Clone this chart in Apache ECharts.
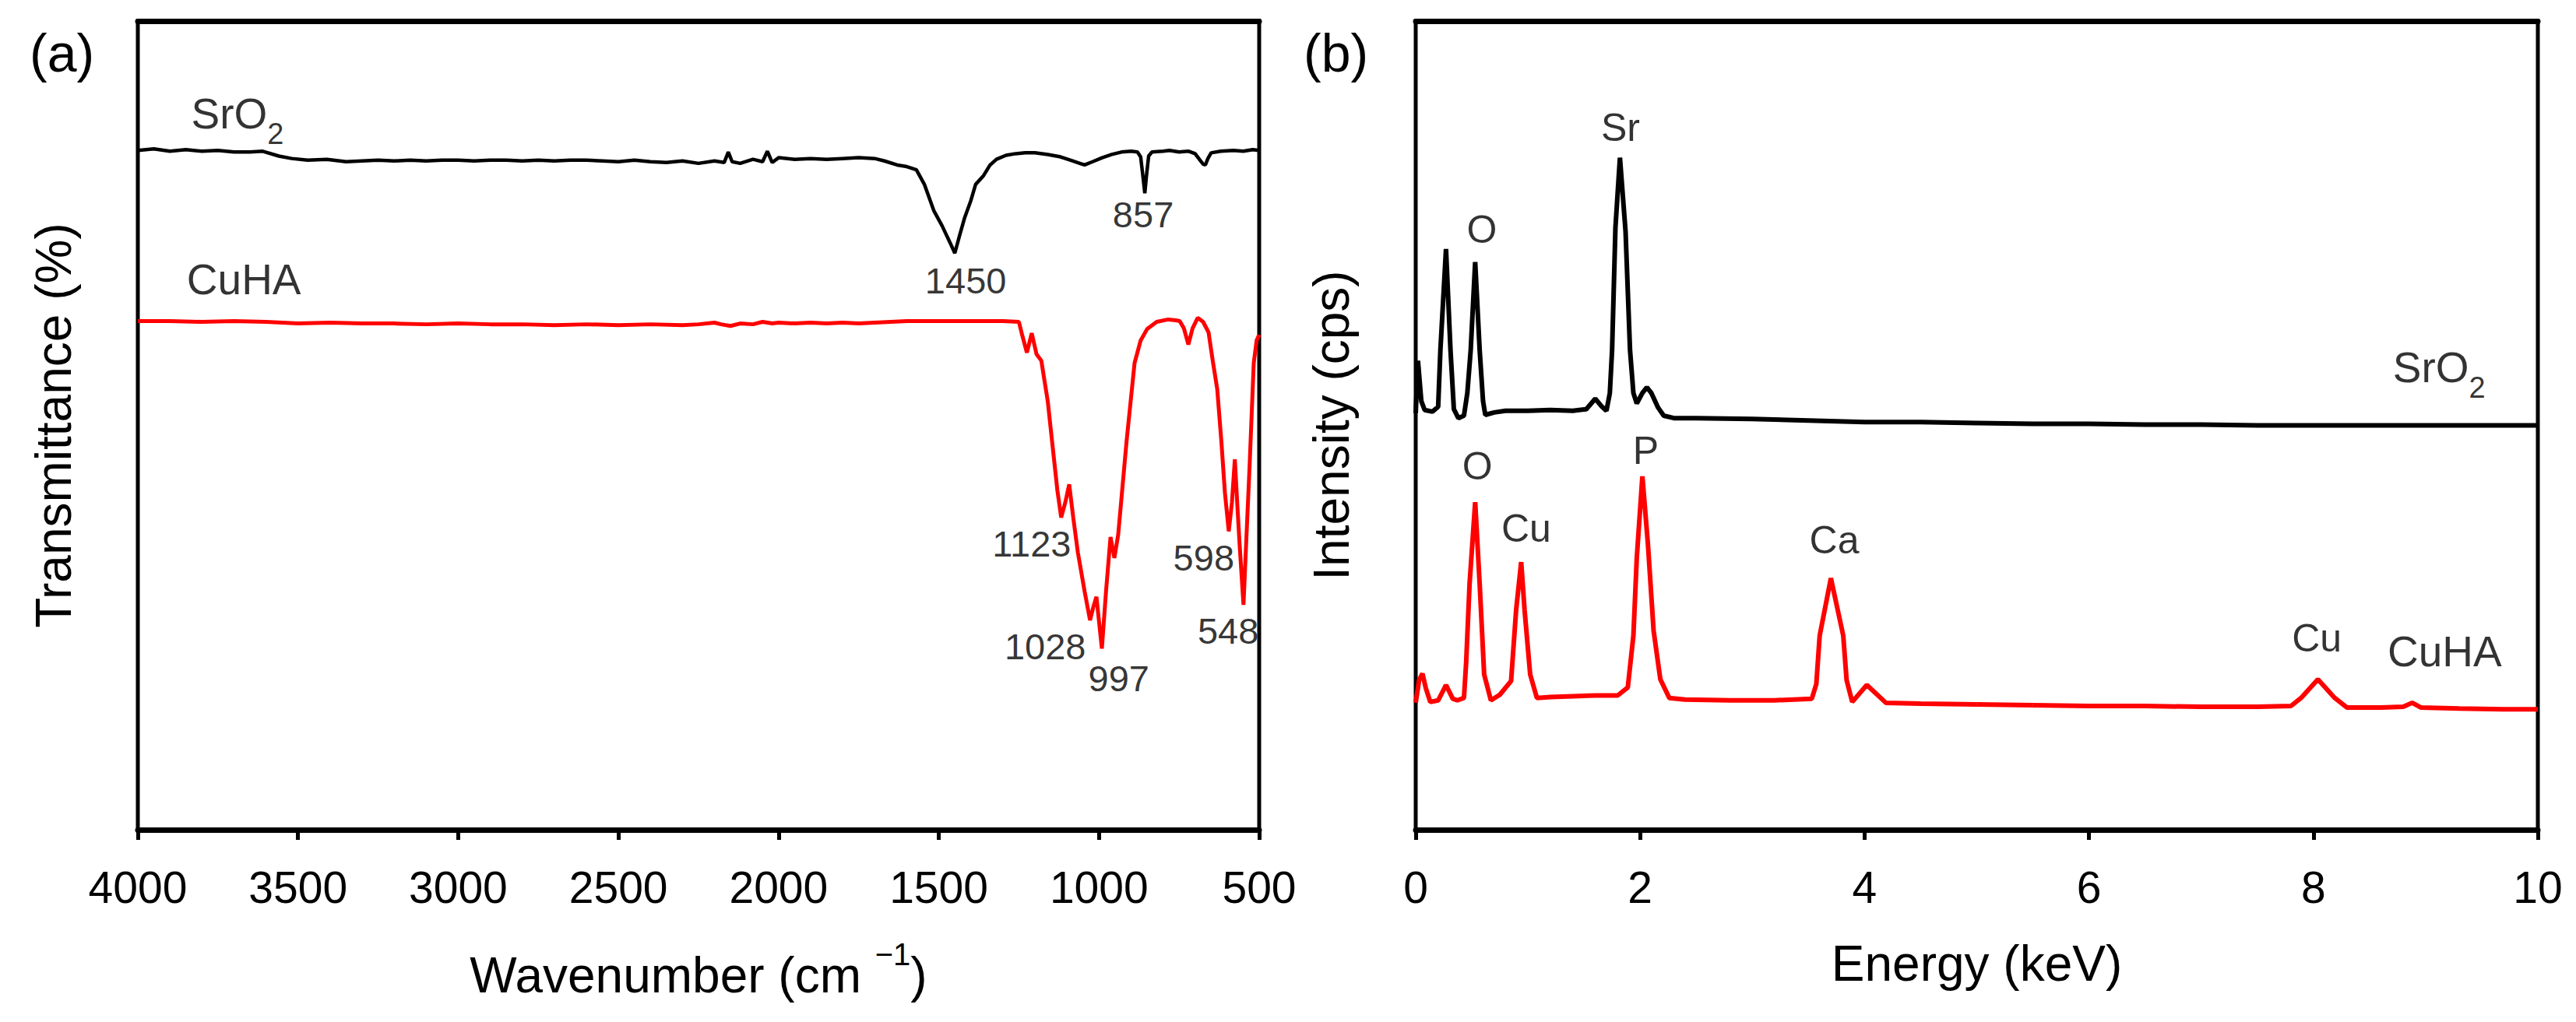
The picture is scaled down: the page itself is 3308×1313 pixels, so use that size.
<!DOCTYPE html>
<html lang="en">
<head>
<meta charset="utf-8">
<title>FTIR and EDS spectra</title>
<script src="https://cdn.jsdelivr.net/npm/echarts@6/dist/echarts.min.js"></script>
<style>
  html, body { margin: 0; padding: 0; background: #fff; }
  #main { width: 3308px; height: 1313px; }
</style>
</head>
<body>
<div id="main"></div>
<script>
// (a) FTIR: [wavenumber cm-1, transmittance (offset, a.u.)]
var irSrO2 = [
  [4000, 84.0], [3950, 84.2], [3900, 83.9], [3850, 84.1], [3800, 83.9], [3750, 84.0],
  [3700, 83.8], [3650, 83.8], [3610, 83.9], [3560, 83.3], [3520, 83.0], [3470, 82.8],
  [3410, 82.9], [3350, 82.6], [3300, 82.7], [3250, 82.8], [3200, 82.7], [3150, 82.8],
  [3100, 82.7], [3050, 82.8], [3000, 82.8], [2950, 82.7], [2900, 82.8], [2850, 82.8],
  [2800, 82.7], [2750, 82.8], [2700, 82.7], [2650, 82.8], [2600, 82.8], [2550, 82.7],
  [2500, 82.6], [2450, 82.8], [2400, 82.6], [2350, 82.5], [2300, 82.7], [2250, 82.4],
  [2200, 82.7], [2170, 82.5], [2157, 83.8], [2145, 82.6], [2120, 82.4], [2080, 82.9],
  [2050, 82.6], [2035, 83.9], [2020, 82.5], [2000, 83.1], [1950, 82.9], [1900, 83.0],
  [1850, 82.9], [1800, 83.0], [1750, 83.1], [1700, 83.0], [1670, 82.7], [1630, 82.2],
  [1600, 82.0], [1570, 81.6], [1545, 79.8], [1515, 76.5], [1490, 74.7], [1465, 72.6],
  [1450, 71.3], [1435, 73.5], [1420, 75.6], [1400, 77.8], [1385, 79.8], [1360, 80.9],
  [1340, 82.2], [1320, 82.9], [1290, 83.4], [1260, 83.6], [1230, 83.7], [1200, 83.7],
  [1160, 83.5], [1120, 83.2], [1090, 82.8], [1060, 82.4], [1045, 82.2], [1020, 82.6],
  [990, 83.1], [960, 83.5], [930, 83.8], [900, 83.9], [880, 83.8], [870, 83.2],
  [862, 80.5], [857, 78.7], [852, 80.8], [845, 83.3], [835, 83.8], [800, 83.9],
  [780, 84.0], [750, 83.8], [720, 83.9], [700, 83.6], [685, 82.8], [675, 82.3],
  [668, 82.2], [660, 83.0], [650, 83.7], [620, 83.9], [580, 84.0], [550, 83.9],
  [520, 84.1], [500, 84.0]
];
var irCuHA = [
  [4000, 62.9], [3900, 62.9], [3800, 62.8], [3700, 62.9], [3600, 62.8], [3500, 62.6],
  [3400, 62.7], [3300, 62.6], [3200, 62.6], [3100, 62.5], [3000, 62.6], [2900, 62.5],
  [2800, 62.5], [2700, 62.4], [2600, 62.5], [2500, 62.4], [2400, 62.5], [2300, 62.4],
  [2250, 62.5], [2200, 62.7], [2180, 62.5], [2150, 62.3], [2120, 62.6], [2080, 62.5],
  [2050, 62.8], [2020, 62.6], [2000, 62.7], [1950, 62.6], [1900, 62.7], [1850, 62.6],
  [1800, 62.7], [1750, 62.6], [1700, 62.7], [1650, 62.8], [1600, 62.9], [1500, 62.9],
  [1400, 62.9], [1300, 62.9], [1250, 62.8], [1240, 61.2], [1225, 59.0], [1210, 61.4],
  [1195, 58.8], [1180, 58.0], [1160, 53.0], [1145, 47.5], [1130, 42.0], [1118, 38.6],
  [1105, 40.5], [1093, 42.7], [1080, 38.5], [1066, 34.3], [1045, 29.5], [1028, 25.9],
  [1018, 27.5], [1008, 28.8], [991, 22.4], [978, 29.5], [964, 36.2], [952, 33.6],
  [940, 36.5], [914, 48.0], [889, 57.7], [870, 60.5], [850, 61.9], [820, 62.8],
  [784, 63.1], [760, 63.0], [748, 62.9], [735, 62.0], [721, 60.0], [708, 62.0],
  [692, 63.3], [675, 62.8], [658, 61.5], [645, 58.0], [631, 54.5], [618, 48.0],
  [607, 41.7], [595, 36.9], [585, 40.5], [576, 45.8], [568, 40.0], [561, 35.2],
  [549, 27.8], [540, 36.0], [530, 44.9], [517, 57.7], [508, 60.5], [500, 61.2]
];
var irPeakLabels = [
  [1416, 67.9, '1450'], [862, 76.1, '857'], [1210, 35.4, '1123'], [1168, 22.7, '1028'],
  [938, 18.7, '997'], [673, 33.6, '598'], [597, 24.6, '548']
];
var irSampleLabels = [[3689, 88.5, 'SrO{sub|2}'], [3669, 68.0, 'CuHA']];

// (b) EDS: [energy keV, intensity (offset, a.u.)]
var edsSrO2 = [
  [0.0, 51.5], [0.02, 58.0], [0.05, 53.0], [0.08, 51.9], [0.15, 51.7], [0.20, 52.3],
  [0.22, 59.3], [0.27, 71.8], [0.31, 59.3], [0.34, 52.0], [0.38, 50.9], [0.43, 51.2],
  [0.46, 54.0], [0.49, 59.3], [0.53, 70.2], [0.57, 59.3], [0.60, 53.0], [0.62, 51.3],
  [0.70, 51.6], [0.80, 51.8], [1.00, 51.8], [1.20, 51.9], [1.40, 51.8], [1.52, 52.0],
  [1.60, 53.3], [1.66, 52.3], [1.70, 51.8], [1.73, 54.0], [1.75, 59.3], [1.78, 74.5],
  [1.82, 83.1], [1.87, 74.0], [1.91, 59.3], [1.94, 54.0], [1.97, 52.7], [2.02, 54.0],
  [2.06, 54.7], [2.10, 54.0], [2.16, 52.2], [2.21, 51.2], [2.30, 50.9], [2.50, 50.9],
  [3.00, 50.8], [3.50, 50.6], [4.00, 50.4], [4.50, 50.4], [5.00, 50.3], [5.50, 50.2],
  [6.00, 50.2], [6.50, 50.1], [7.00, 50.1], [7.50, 50.0], [8.00, 50.0], [8.50, 50.0],
  [9.00, 50.0], [9.50, 50.0], [10.0, 50.0]
];
var edsCuHA = [
  [0.0, 15.7], [0.03, 18.5], [0.06, 19.3], [0.09, 17.5], [0.13, 15.8], [0.20, 16.0],
  [0.27, 17.9], [0.33, 16.2], [0.37, 16.0], [0.43, 16.3], [0.45, 20.8], [0.48, 30.4],
  [0.53, 40.5], [0.57, 30.4], [0.61, 19.2], [0.67, 16.0], [0.75, 16.7], [0.85, 18.4],
  [0.895, 27.2], [0.94, 33.1], [0.97, 27.2], [1.02, 19.2], [1.08, 16.3], [1.20, 16.4],
  [1.40, 16.5], [1.60, 16.6], [1.80, 16.6], [1.89, 17.6], [1.94, 24.0], [1.97, 33.6],
  [2.02, 43.7], [2.07, 35.2], [2.12, 24.6], [2.18, 18.6], [2.26, 16.3], [2.40, 16.1],
  [2.80, 16.0], [3.20, 16.0], [3.53, 16.2], [3.57, 18.0], [3.60, 24.0], [3.70, 31.1],
  [3.81, 24.0], [3.84, 18.5], [3.89, 15.8], [4.02, 17.9], [4.19, 15.7], [4.50, 15.6],
  [5.00, 15.5], [5.50, 15.4], [6.00, 15.3], [6.50, 15.3], [7.00, 15.2], [7.50, 15.2],
  [7.80, 15.3], [7.89, 16.3], [8.04, 18.6], [8.19, 16.3], [8.30, 15.1], [8.60, 15.1],
  [8.80, 15.2], [8.88, 15.7], [8.96, 15.1], [9.30, 15.0], [9.70, 14.9], [10.0, 14.9]
];
var edsElementLabels = [
  [1.825, 86.8, 'Sr'], [0.59, 74.2, 'O'], [0.55, 44.9, 'O'], [0.985, 37.2, 'Cu'],
  [2.05, 46.9, 'P'], [3.73, 35.8, 'Ca'], [8.03, 23.7, 'Cu']
];
var edsSampleLabels = [[9.12, 57.2, 'SrO{sub|2}'], [9.17, 22.0, 'CuHA']];

var FONT = "'Liberation Sans', Arial, sans-serif";
var chart = echarts.init(document.getElementById('main'), null, { renderer: 'svg' });

function toItems(list) {
  return list.map(function (d) { return { value: [d[0], d[1]], name: d[2] }; });
}
function textSeries(xi, yi, list, size) {
  return {
    type: 'scatter', xAxisIndex: xi, yAxisIndex: yi, symbolSize: 0, silent: true,
    data: toItems(list),
    label: {
      show: true, position: 'inside', formatter: '{b}', color: '#000',
      fontFamily: FONT, fontSize: size,
      rich: { sub: { fontFamily: FONT, fontSize: 38, color: '#000', padding: [52, 0, 0, 0] } }
    }
  };
}
function bottomAxis(gi, min, max, interval, inverse, name) {
  return {
    type: 'value', gridIndex: gi, position: 'bottom', min: min, max: max,
    interval: interval, inverse: inverse,
    axisLine: { lineStyle: { color: '#000', width: 7 } },
    axisTick: { inside: false, length: 13, lineStyle: { color: '#000', width: 5 } },
    axisLabel: {
      color: '#000', fontFamily: FONT, fontSize: 57, margin: 45,
      formatter: function (v) { return String(v); }
    },
    splitLine: { show: false },
    name: name, nameLocation: 'middle', nameGap: 140,
    nameTextStyle: {
      color: '#000', fontFamily: FONT, fontSize: 64,
      rich: { sup: { fontFamily: FONT, fontSize: 40, color: '#000', padding: [0, 0, 54, 0] } }
    }
  };
}
function topAxis(gi, min, max, inverse) {
  return {
    type: 'value', gridIndex: gi, position: 'top', min: min, max: max, inverse: inverse,
    axisLine: { lineStyle: { color: '#000', width: 7 } },
    axisTick: { show: false }, axisLabel: { show: false }, splitLine: { show: false }
  };
}
function leftAxis(gi, name) {
  return {
    type: 'value', gridIndex: gi, min: 0, max: 100,
    axisLine: { show: false }, axisTick: { show: false }, axisLabel: { show: false },
    splitLine: { show: false },
    name: name, nameLocation: 'middle', nameRotate: 90, nameGap: 76,
    nameTextStyle: { color: '#000', fontFamily: FONT, fontSize: 64 }
  };
}

var option = {
  animation: false,
  backgroundColor: '#fff',
  grid: [
    { left: 177, top: 27, width: 1440, height: 1039, show: true, borderColor: '#000', borderWidth: 5 },
    { left: 1818, top: 27, width: 1441, height: 1039, show: true, borderColor: '#000', borderWidth: 5 }
  ],
  xAxis: [
    bottomAxis(0, 500, 4000, 500, true, 'Wavenumber (cm {sup|\u22121})'),
    topAxis(0, 500, 4000, true),
    bottomAxis(1, 0, 10, 2, false, 'Energy (keV)'),
    topAxis(1, 0, 10, false)
  ],
  yAxis: [leftAxis(0, 'Transmittance (%)'), leftAxis(1, 'Intensity (cps)')],
  graphic: [
    { type: 'text', left: 38, top: 34, style: { text: '(a)', font: '68px ' + FONT, fill: '#000' } },
    { type: 'text', left: 1674, top: 34, style: { text: '(b)', font: '68px ' + FONT, fill: '#000' } }
  ],
  series: [
    { type: 'line', xAxisIndex: 0, yAxisIndex: 0, data: irSrO2, showSymbol: false,
      lineStyle: { color: '#000', width: 4.5 } },
    { type: 'line', xAxisIndex: 0, yAxisIndex: 0, data: irCuHA, showSymbol: false,
      lineStyle: { color: '#ff0000', width: 5 } },
    { type: 'line', xAxisIndex: 2, yAxisIndex: 1, data: edsSrO2, showSymbol: false,
      lineStyle: { color: '#000', width: 6 } },
    { type: 'line', xAxisIndex: 2, yAxisIndex: 1, data: edsCuHA, showSymbol: false,
      lineStyle: { color: '#ff0000', width: 6 } },
    textSeries(0, 0, irPeakLabels, 47),
    textSeries(0, 0, irSampleLabels, 55),
    textSeries(2, 1, edsElementLabels, 50),
    textSeries(2, 1, edsSampleLabels, 55)
  ]
};
chart.setOption(option);
</script>
</body>
</html>
